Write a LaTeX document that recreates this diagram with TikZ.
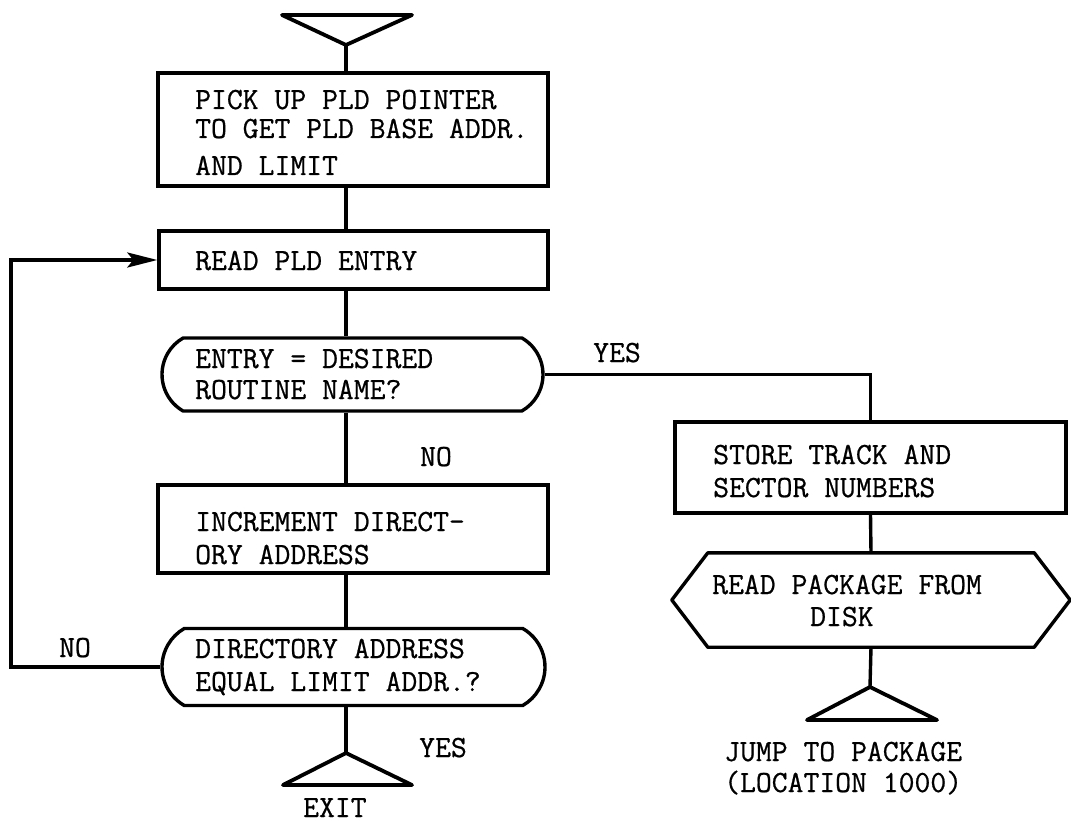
\documentclass[tikz,border=0pt]{standalone}
\usepackage{fontspec}
\usetikzlibrary{arrows.meta,shapes.misc}
\newfontfamily\tyfam[FakeBold=0.7]{Latin Modern Mono}
\newcommand\tyfont{\fontsize{30.8pt}{33pt}\selectfont\tyfam}
\begin{document}
\begin{tikzpicture}[x=1pt,y=-1pt,
  ln/.style={line width=3.4pt},
  stepbox/.style={draw,ln,rectangle,inner sep=0pt},
  decide/.style={draw,ln,rounded rectangle,rounded rectangle arc length=120,inner sep=0pt},
  frame/.style={rectangle,inner sep=0pt},
  tri/.style={draw,line width=3.8pt,line join=round},
  txt/.style={font=\tyfont,anchor=base west,inner sep=0pt,text height=19pt,text depth=0pt},
  lbl/.style={font=\tyfont,anchor=base,inner sep=0pt,text height=19pt,text depth=0pt}]
\fill[white] (0,0) rectangle (1071,821);
\useasboundingbox (0,0) rectangle (1071,821);

% vertical rail of the main column and the loop-back rail
\coordinate (spine) at (346,0);
\coordinate (rail) at (11,0);

% entry triangle
\coordinate (starttip) at (346,45);
\draw[tri] (282,15) -- (412,15) -- (starttip) -- cycle;

% main column
\node[stepbox,minimum width=390pt,minimum height=113pt] (b1) at (353,129.5) {};
\node[txt] (b1a) at (195,109) {PICK UP PLD POINTER};
\node[txt] (b1b) at (195,138) {TO GET PLD BASE ADDR.};
\node[txt] (b1c) at (195,175) {AND LIMIT};

\node[stepbox,minimum width=389pt,minimum height=58pt] (b2) at (353.5,260) {};
\node[txt] (b2a) at (195,270) {READ PLD ENTRY};

\node[decide,minimum width=381pt,minimum height=73pt] (d1) at (352.5,374.5) {};
\node[txt] (d1a) at (195,368) {ENTRY = DESIRED};
\node[txt] (d1b) at (195,399) {ROUTINE NAME?};

\node[stepbox,minimum width=390pt,minimum height=88pt] (b3) at (353,529) {};
\node[txt] (b3a) at (195,531) {INCREMENT DIRECT-};
\node[txt] (b3b) at (195,564) {ORY ADDRESS};

\node[decide,minimum width=383pt,minimum height=77pt] (d2) at (353.5,667) {};
\node[txt] (d2a) at (195,658) {DIRECTORY ADDRESS};
\node[txt] (d2b) at (195,691) {EQUAL LIMIT ADDR.?};

% exit triangle
\coordinate (exittip) at (346,753);
\draw[tri] (exittip) -- (412,785) -- (283,785) -- cycle;
\node[txt] (exitt) at (303,817) {EXIT};

% right column
\node[stepbox,minimum width=391pt,minimum height=91pt] (b4) at (870.5,467.5) {};
\node[txt] (b4a) at (713,464) {STORE TRACK AND};
\node[txt] (b4b) at (713,497) {SECTOR NUMBERS};

\node[frame,minimum width=398pt,minimum height=94pt] (hx) at (871,600) {};
\draw[ln,line join=round] (hx.west) -- ([xshift=36pt]hx.north west) -- ([xshift=-36pt]hx.north east)
  -- (hx.east) -- ([xshift=-36pt]hx.south east) -- ([xshift=36pt]hx.south west) -- cycle;
\node[txt] (hxa) at (712,594) {READ PACKAGE FROM};
\node[txt] (hxb) at (810,626) {DISK};

\coordinate (jumptip) at (870,687);
\draw[tri] (jumptip) -- (937,720) -- (807,720) -- cycle;
\node[txt] (jta) at (724,761) {JUMP TO PACKAGE};
\node[txt] (jtb) at (724,792) {(LOCATION 1000)};

% branch labels
\node[lbl] (yes1) at (617,362) {YES};
\node[lbl] (no1) at (436,466) {NO};
\node[lbl] (no2) at (75,657) {NO};
\node[lbl] (yes2) at (443,757) {YES};

% connectors
\draw[ln] (starttip) -- (b1.north -| starttip);
\draw[ln] (b1.south -| spine) -- (b2.north -| spine);
\draw[ln] (b2.south -| spine) -- (d1.north -| spine);
\draw[ln] (d1.south -| spine) -- (b3.north -| spine);
\draw[ln] (b3.south -| spine) -- (d2.north -| spine);
\draw[ln] (d2.south -| spine) -- (exittip);
\draw[ln] (d1.east) -- (d1.east -| b4.north) -- (b4.north);
\draw[ln] (b4.south) -- (hx.north);
\draw[ln] (hx.south) -- (jumptip);
\draw[ln,-{Stealth[length=30pt,width=15pt,inset=6pt]}] (d2.west) -- (d2.west -| rail) |- (b2.west);
\end{tikzpicture}
\end{document}
